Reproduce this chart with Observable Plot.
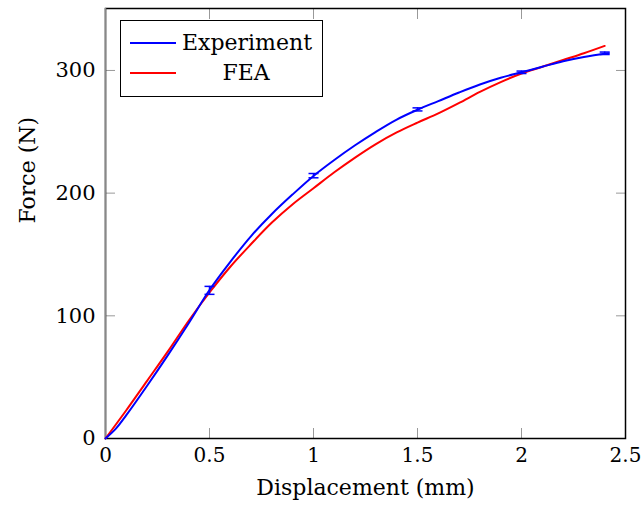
<!DOCTYPE html>
<html>
<head>
<meta charset="utf-8">
<script src="https://cdn.jsdelivr.net/npm/d3@7"></script>
<script src="https://cdn.jsdelivr.net/npm/@observablehq/plot@0.6"></script>
<style>
  html, body { margin: 0; padding: 0; background: #fff; }
  #wrap { position: relative; width: 641px; height: 510px; font-family: "DejaVu Serif", serif; }
  #legend { position: absolute; left: 120px; top: 20px; width: 201px; height: 75px;
    border: 1.5px solid #000; background: #fff; font-size: 22px; color: #000; }
  .row { position: absolute; left: 0; width: 201px; height: 28px; }
  .sw { position: absolute; left: 9px; top: 13px; width: 46px; height: 2px; }
  .lab { position: absolute; top: 0; line-height: 28px; }
</style>
</head>
<body>
<div id="wrap"><div id="chart"></div>
<div id="legend">
  <div class="row" style="top:8px"><div class="sw" style="background:#0000ff"></div><div class="lab" style="left:61px">Experiment</div></div>
  <div class="row" style="top:38px"><div class="sw" style="background:#ff0000"></div><div class="lab" style="left:61px;width:128px;text-align:center">FEA</div></div>
</div>
</div>
<script>
const expX = [0, 0.05, 0.1, 0.2, 0.3, 0.4, 0.5, 0.6, 0.7, 0.8, 0.9, 1.0, 1.1, 1.2, 1.3, 1.4, 1.5, 1.6, 1.7, 1.8, 1.9, 2.0, 2.1, 2.2, 2.3, 2.42];
const expY = [0, 8, 19, 43, 68, 94, 121, 144, 165, 183, 199, 214, 227, 239, 250, 260, 268, 275, 282, 288.5, 294, 298.5, 303, 307.5, 311, 314];
const feaX = [0, 0.1, 0.2, 0.3, 0.4, 0.5, 0.6, 0.7, 0.8, 0.9, 1.0, 1.1, 1.2, 1.3, 1.4, 1.5, 1.6, 1.7, 1.8, 1.9, 2.0, 2.1, 2.2, 2.3, 2.4];
const feaY = [0, 23, 47, 71, 96, 119, 140, 158.5, 176, 191, 204, 217, 229, 240, 249.5, 257.5, 265, 273.5, 282.5, 290.5, 297.5, 303, 308.5, 314, 320];
const errX = [0.5, 1.0, 1.5, 2.0, 2.4];
const errLow = [117.5, 212.5, 267, 297.5, 313];
const errHigh = [124, 216, 269.5, 299.5, 315];
const xTicks = [0, 0.5, 1, 1.5, 2, 2.5];
const yTicks = [0, 100, 200, 300];

const exp = expX.map((x, i) => ({x, y: expY[i]}));
const fea = feaX.map((x, i) => ({x, y: feaY[i]}));
const err = errX.map((x, i) => ({x, lo: errLow[i], hi: errHigh[i]}));
const caps = err.flatMap(d => [{x: d.x, y: d.lo}, {x: d.x, y: d.hi}]);

const capSymbol = {draw(ctx, size) { const w = 5; ctx.moveTo(-w, 0); ctx.lineTo(w, 0); }};

const tickGrey = "#999";
const plot = Plot.plot({
  width: 641, height: 510,
  marginLeft: 105, marginRight: 16, marginTop: 8, marginBottom: 72,
  style: {fontFamily: "DejaVu Serif, serif", fontSize: "21px", color: "#000", background: "#fff"},
  x: {domain: [0, 2.5]},
  y: {domain: [0, 350.5]},
  marks: [
    Plot.axisX({anchor: "bottom", ticks: xTicks, tickSize: 0, tickPadding: 9, fontSize: 20, tickFormat: d => String(d), label: null}),
    Plot.axisY({anchor: "left", ticks: yTicks, tickSize: 0, tickPadding: 10, fontSize: 21, tickFormat: d => String(d), label: null}),
    Plot.axisX({anchor: "bottom", ticks: xTicks, tickSize: -10, tickFormat: () => "", stroke: tickGrey, label: null}),
    Plot.axisX({anchor: "top", ticks: xTicks, tickSize: -10, tickFormat: () => "", stroke: tickGrey, label: null}),
    Plot.axisY({anchor: "left", ticks: yTicks, tickSize: -10, tickFormat: () => "", stroke: tickGrey, label: null}),
    Plot.axisY({anchor: "right", ticks: yTicks, tickSize: -10, tickFormat: () => "", stroke: tickGrey, label: null}),
    Plot.frame({stroke: "#000", strokeWidth: 1.5}),
    Plot.ruleX([0], {stroke: "#888", strokeWidth: 1.5}),
    Plot.line(fea, {x: "x", y: "y", stroke: "#ff0000", strokeWidth: 2, curve: "catmull-rom"}),
    Plot.line(exp, {x: "x", y: "y", stroke: "#0000ff", strokeWidth: 2, curve: "catmull-rom"}),
    Plot.ruleX(err, {x: "x", y1: "lo", y2: "hi", stroke: "#0000ff", strokeWidth: 1.5}),
    Plot.dot(caps, {x: "x", y: "y", symbol: capSymbol, r: 5, stroke: "#0000ff", strokeWidth: 1.5, fill: "none"}),
    Plot.text(["Displacement (mm)"], {frameAnchor: "bottom", dy: 56, fontSize: 22, fill: "#000"}),
    Plot.text(["Force (N)"], {frameAnchor: "left", dx: -78, rotate: -90, fontSize: 22, fill: "#000"})
  ]
});
document.getElementById("chart").appendChild(plot);
</script>
</body>
</html>
